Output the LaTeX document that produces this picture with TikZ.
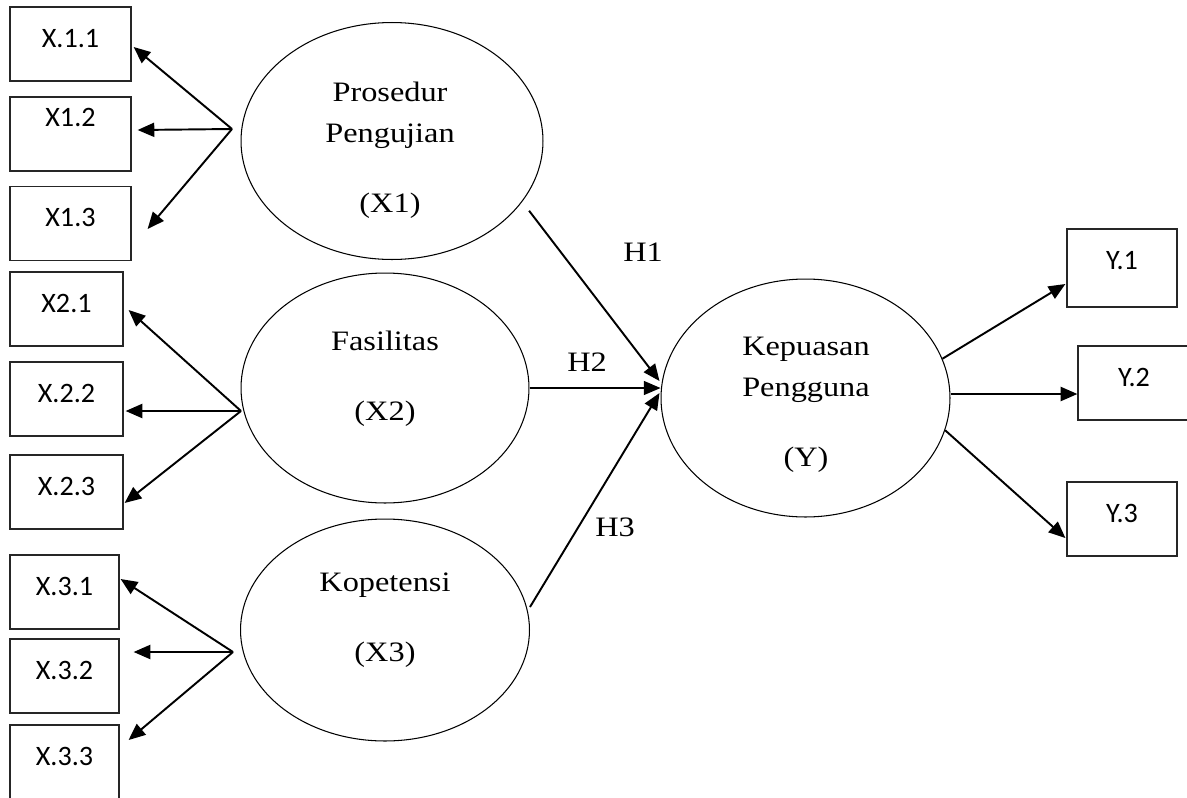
\documentclass[tikz,border=0pt]{standalone}
\usepackage{fontspec}
\newfontfamily\tnrfont[FakeStretch=1.15]{Liberation Serif}
\newfontfamily\calfont{Carlito}
\usetikzlibrary{arrows.meta,shapes.geometric,calc,positioning}
\tikzset{
  latent/.style={draw, ellipse, line width=0.6pt, inner sep=0pt},
  latenttext/.style={align=center, inner sep=0pt, font=\tnrfont\fontsize{16}{23.3}\selectfont},
  indicator/.style={draw=black!85, line width=0.7pt, inner sep=0pt, minimum width=#1, text height=0.8cm, text depth=0.68cm, font=\calfont\fontsize{16}{19}\selectfont},
  indicator/.default=2.2cm,
  load/.style={-{Triangle[length=9.5pt,width=8pt]}, line width=1.1pt},
  hyp/.style={-{Triangle[length=9.5pt,width=8pt]}, line width=1.1pt},
  hlabel/.style={font=\tnrfont\fontsize{16}{19}\selectfont}
}

\begin{document}
\begin{tikzpicture}[x=0.02cm, y=-0.02cm]
  \useasboundingbox (0,0) rectangle (1187,798);
  \node[latent, minimum width=6.04cm, minimum height=4.74cm] (e1) at (392,141) {};
  \node[latent, minimum width=5.76cm, minimum height=4.6cm] (e2) at (385,388) {};
  \node[latent, minimum width=5.78cm, minimum height=4.44cm] (e3) at (385,630) {};
  \node[latent, minimum width=5.78cm, minimum height=4.76cm] (e4) at (805.5,398) {};
  \node[latenttext] (t1) at (390,150) {Prosedur\\Pengujian\\[16.5pt](X1)};
  \node[latenttext] (t2) at (385,379) {Fasilitas\\[16.5pt](X2)};
  \node[latenttext] (t3) at (385,620) {Kopetensi\\[16.5pt](X3)};
  \node[latenttext] (t4) at (806,405) {Kepuasan\\Pengguna\\[16.5pt](Y)};
  \node[indicator=2.42cm] (x11) at (70.5,44) {X.1.1};
  \node[indicator=2.42cm, text height=0.58cm, text depth=0.9cm] (x12) at (70.5,134) {X1.2};
  \node[indicator=2.42cm] (x13) at (70.5,223.5) {X1.3};
  \node[indicator=2.26cm] (x21) at (66.5,309) {X2.1};
  \node[indicator=2.26cm] (x22) at (66.5,399) {X.2.2};
  \node[indicator=2.26cm] (x23) at (66.5,492) {X.2.3};
  \node[indicator=2.18cm] (x31) at (64.5,592) {X.3.1};
  \node[indicator=2.18cm] (x32) at (64.5,676) {X.3.2};
  \node[indicator=2.18cm] (x33) at (64.5,762) {X.3.3};
  \node[indicator, text depth=0.76cm] (y1) at (1122,268) {Y.1};
  \node[indicator=2.24cm] (y2) at (1134,383) {Y.2};
  \node[indicator] (y3) at (1122,519) {Y.3};
  \coordinate (f1) at (232,129);
  \coordinate (f2) at (241,411);
  \coordinate (f3) at (233,652);
  \draw[load] (f1) -- ($(x11.east)+(2,3)$);
  \draw[load] (f1) -- ($(x12.east)+(6,-4)$);
  \draw[load] (f1) -- ($(x13.east)+(16,5.5)$);
  \draw[load] (f2) -- ($(x21.east)+(5,1)$);
  \draw[load] (f2) -- ($(x22.east)+(2,12)$);
  \draw[load] (f2) -- ($(x23.east)+(1,11)$);
  \draw[load] (f3) -- ($(x31.east)+(1,-13)$);
  \draw[load] (f3) -- ($(x32.east)+(14,-24)$);
  \draw[load] (f3) -- ($(x33.east)+(9,-22)$);
  \draw[hyp] ($(e1.-27)+(10,5)$) -- ($(e4.west)+(-1,-17)$);
  \draw[hyp, line width=0.6pt] (e2.east) -- (e2.east -| e4.west);
  \draw[hyp] ($(e3.east)+(0,-23)$) -- ($(e4.west)+(-1,-5)$);
  \draw[load] (e4.16) -- ($(y1.west)+(-1,16)$);
  \draw[load] ($(e4.east)+(0,-4)$) -- ($(y2.west)+(0,11)$);
  \draw[load] (e4.-13) -- ($(y3.west)+(-1,19)$);
  \node[hlabel] (h1) at (643,252) {H1};
  \node[hlabel] (h2) at (587,362) {H2};
  \node[hlabel] (h3) at (615,527) {H3};
\end{tikzpicture}
\end{document}
